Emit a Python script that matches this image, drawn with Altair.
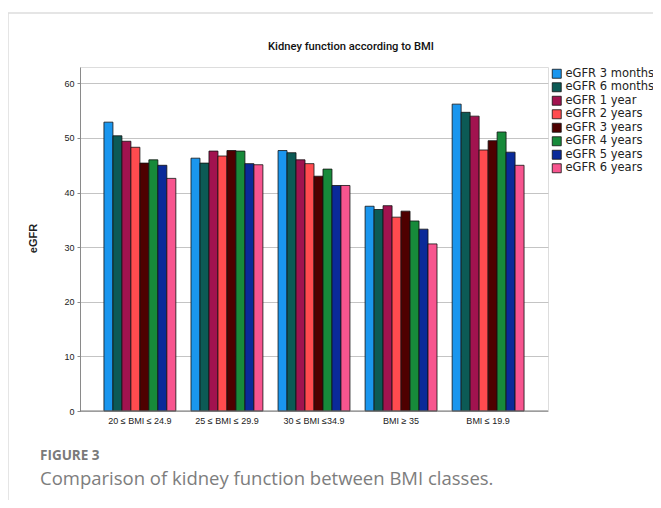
import altair as alt
import pandas as pd

groups = ["20 ≤ BMI ≤ 24.9", "25 ≤ BMI ≤ 29.9", "30 ≤ BMI ≤34.9", "BMI ≥ 35", "BMI ≤ 19.9"]
series = ["eGFR 3 months", "eGFR 6 months", "eGFR 1 year", "eGFR 2 years",
          "eGFR 3 years", "eGFR 4 years", "eGFR 5 years", "eGFR 6 years"]
colors = ["#1A96EE", "#0C5A55", "#A1134F", "#FF4B4F", "#4E0000", "#178A3A", "#0A2A99", "#F7558F"]

v_3m = [52.9, 46.3, 47.7, 37.5, 56.2]
v_6m = [50.4, 45.4, 47.3, 36.9, 54.7]
v_1y = [49.4, 47.6, 46.0, 37.6, 54.0]
v_2y = [48.3, 46.7, 45.3, 35.5, 47.8]
v_3y = [45.4, 47.7, 43.0, 36.6, 49.5]
v_4y = [46.0, 47.6, 44.3, 34.8, 51.1]
v_5y = [45.0, 45.3, 41.3, 33.3, 47.4]
v_6y = [42.6, 45.1, 41.3, 30.6, 45.0]
all_vals = [v_3m, v_6m, v_1y, v_2y, v_3y, v_4y, v_5y, v_6y]

rows = []
for s, vals in zip(series, all_vals):
    for g, v in zip(groups, vals):
        rows.append({"group": g, "series": s, "value": v})
df = pd.DataFrame(rows)

W, H = 468, 344

bars = alt.Chart(df).mark_bar(stroke="#111111", strokeWidth=0.8).encode(
    x=alt.X("group:N", sort=groups, title=None,
            scale=alt.Scale(paddingInner=0.174, paddingOuter=0.275),
            axis=alt.Axis(labelAngle=0, ticks=False, domain=False, labelFont="Liberation Sans",
                          labelFontSize=9, labelColor="#222222", labelPadding=5)),
    xOffset=alt.XOffset("series:N", sort=series, scale=alt.Scale(paddingInner=0, paddingOuter=0)),
    y=alt.Y("value:Q", title="eGFR",
            scale=alt.Scale(domain=[0, 63], nice=False),
            axis=alt.Axis(values=[0, 10, 20, 30, 40, 50, 60], grid=True, gridColor="#c4c4c4",
                          gridWidth=1, domainColor="#8a8a8a", tickColor="#8a8a8a", tickSize=3,
                          labelFont="Liberation Sans", labelFontSize=9, labelColor="#222222",
                          labelPadding=3, titleFont="Liberation Sans", titleFontSize=11,
                          titleFontWeight="bold", titleColor="#222222", titleAngle=-90,
                          titleX=-47, titleY=H / 2 - 1, titleAlign="center", titleBaseline="middle")),
    color=alt.Color("series:N", sort=series, scale=alt.Scale(domain=series, range=colors),
                    legend=alt.Legend(title=None, orient="none", legendX=W + 3, legendY=1,
                                      symbolType="square", symbolSize=81,
                                      symbolStrokeColor="#111111", symbolStrokeWidth=0.8,
                                      symbolOpacity=1, labelFont="DejaVu Sans",
                                      labelFontSize=11.5, labelColor="#222222", rowPadding=0.5,
                                      labelOffset=3, padding=0)),
)

baseline = alt.Chart(pd.DataFrame({"v": [0]})).mark_rule(color="#777777", strokeWidth=1).encode(
    y="v:Q", x=alt.value(0), x2=alt.value(W))

frame_top = alt.Chart(pd.DataFrame({"a": [0]})).mark_rule(color="#dddddd", strokeWidth=1.5).encode(
    x=alt.value(-72), x2=alt.value(590), y=alt.value(-54))
frame_left = alt.Chart(pd.DataFrame({"a": [0]})).mark_rule(color="#dddddd", strokeWidth=1.5).encode(
    x=alt.value(-72), y=alt.value(-54), y2=alt.value(440))

title_txt = alt.Chart(pd.DataFrame({"t": ["Kidney function according to BMI"]})).mark_text(
    font="Roboto", fontSize=11.2, fontWeight=500, color="#111111",
    align="center", baseline="middle").encode(text="t:N", x=alt.value(271), y=alt.value(-20))

fig_txt = alt.Chart(pd.DataFrame({"t": ["FIGURE 3"]})).mark_text(
    font="Open Sans", fontSize=13.5, fontWeight="bold", color="#7a7a7a",
    align="left", baseline="middle").encode(text="t:N", x=alt.value(-40), y=alt.value(389))

cap_txt = alt.Chart(pd.DataFrame({"t": ["Comparison of kidney function between BMI classes."]})).mark_text(
    font="Open Sans", fontSize=18.5, fontWeight="normal", color="#7d7d7d",
    align="left", baseline="middle").encode(text="t:N", x=alt.value(-40), y=alt.value(412))

chart = alt.layer(bars, baseline, frame_top, frame_left, title_txt, fig_txt, cap_txt).properties(
    width=W, height=H,
    autosize=alt.AutoSizeParams(type="none"),
    padding={"left": 72, "top": 59, "right": 105, "bottom": 89},
).configure_view(stroke=None).configure(background="white")

chart.save("out.html", embed_options={"renderer": "svg", "actions": False})
